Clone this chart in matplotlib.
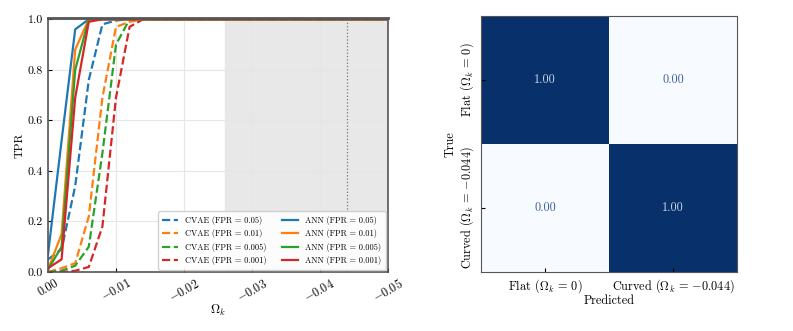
import numpy as np
import matplotlib
matplotlib.use("Agg")
import matplotlib.pyplot as plt

plt.rcParams['font.family'] = 'serif'
plt.rcParams['font.serif'] = ['cmr10', 'DejaVu Serif']
plt.rcParams['mathtext.fontset'] = 'cm'
plt.rcParams['axes.formatter.use_mathtext'] = True
plt.rcParams['axes.unicode_minus'] = True

# Данные: сетка Omega_k и TPR для каждой кривой
omega_k = [0.0, -0.002, -0.004, -0.006, -0.008, -0.010, -0.012, -0.014, -0.016,
           -0.020, -0.030, -0.040, -0.050]

cvae_005 = [0.05, 0.09, 0.34, 0.76, 0.98, 0.995, 1.0, 1.0, 1.0, 1.0, 1.0, 1.0, 1.0]
cvae_001 = [0.00, 0.015, 0.035, 0.22, 0.69, 0.97, 0.99, 1.0, 1.0, 1.0, 1.0, 1.0, 1.0]
cvae_0005 = [0.00, 0.005, 0.025, 0.10, 0.47, 0.90, 1.0, 1.0, 1.0, 1.0, 1.0, 1.0, 1.0]
cvae_0001 = [0.00, 0.00, 0.005, 0.02, 0.18, 0.69, 0.97, 1.0, 1.0, 1.0, 1.0, 1.0, 1.0]

ann_005 = [0.07, 0.52, 0.96, 1.0, 1.0, 1.0, 1.0, 1.0, 1.0, 1.0, 1.0, 1.0, 1.0]
ann_001 = [0.01, 0.15, 0.88, 1.0, 1.0, 1.0, 1.0, 1.0, 1.0, 1.0, 1.0, 1.0, 1.0]
ann_0005 = [0.01, 0.10, 0.80, 1.0, 1.0, 1.0, 1.0, 1.0, 1.0, 1.0, 1.0, 1.0, 1.0]
ann_0001 = [0.015, 0.05, 0.69, 0.99, 1.0, 1.0, 1.0, 1.0, 1.0, 1.0, 1.0, 1.0, 1.0]

fpr_labels = ['0.05', '0.01', '0.005', '0.001']
omega_true = -0.044
shade_start = -0.026

conf_matrix = np.array([[1.00, 0.00], [0.00, 1.00]])
class_labels = [r'Flat ($\Omega_k\,=\,0$)', r'Curved ($\Omega_k\,=\,{-0.044}$)']

colors = ['#1f77b4', '#ff7f0e', '#2ca02c', '#d62728']

fig = plt.figure(figsize=(7.93, 3.31), dpi=100)
ax1 = fig.add_axes([48 / 793, 59 / 331, 340 / 793, 254 / 331])
ax2 = fig.add_axes([481 / 793, 59 / 331, 256 / 793, 256 / 331])

# Левая панель: кривые TPR
ax1.axvspan(shade_start, -0.05, color='#e8e8e8', zorder=0)
ax1.grid(True, color='#e6e6e6', linewidth=0.8, zorder=0.5)
cvae = [cvae_005, cvae_001, cvae_0005, cvae_0001]
ann = [ann_005, ann_001, ann_0005, ann_0001]
handles = []
for i in range(4):
    h, = ax1.plot(omega_k, cvae[i], '--', color=colors[i], lw=1.6,
                  label='CVAE (FPR = %s)' % fpr_labels[i])
    handles.append(h)
for i in range(4):
    h, = ax1.plot(omega_k, ann[i], '-', color=colors[i], lw=1.6,
                  label='ANN (FPR = %s)' % fpr_labels[i])
    handles.append(h)
ax1.axvline(omega_true, color='#777777', linestyle=':', lw=0.9)

ax1.set_xlim(0, -0.05)
ax1.set_ylim(0, 1.005)
ax1.set_xticks([0, -0.01, -0.02, -0.03, -0.04, -0.05])
ax1.set_xticklabels(['0.00', r'$-0.01$', r'$-0.02$', r'$-0.03$', r'$-0.04$', r'$-0.05$'],
                    rotation=30, fontsize=8.8)
ax1.set_yticks([0, 0.2, 0.4, 0.6, 0.8, 1.0])
ax1.set_yticklabels(['0.0', '0.2', '0.4', '0.6', '0.8', '1.0'], fontsize=8.6)
ax1.tick_params(direction='in', length=3)
ax1.set_xlabel(r'$\Omega_k$', fontsize=9, labelpad=-2)
ax1.set_ylabel('TPR', fontsize=8.6, labelpad=2.5)
for s in ax1.spines.values():
    s.set_color('#555555')
    s.set_linewidth(1.2)
ax1.spines['top'].set_linewidth(2.0)
ax1.legend(handles=handles, ncol=2, loc='lower right', fontsize=6,
           handlelength=1.9, handletextpad=0.85, columnspacing=1.9, framealpha=0.9,
           edgecolor='#cccccc', borderpad=0.5, labelspacing=0.55, borderaxespad=0.3)

# Правая панель: матрица ошибок
ax2.imshow(conf_matrix, cmap='Blues', vmin=0, vmax=1, aspect='auto')
for i in range(2):
    for j in range(2):
        val = conf_matrix[i, j]
        tc = '#c9d7ec' if val > 0.5 else '#3b5f95'
        ax2.text(j, i, '%.2f' % val, ha='center', va='center', color=tc, fontsize=8.8)
ax2.set_xticks([0, 1])
ax2.set_xticklabels(class_labels, fontsize=8.8)
ax2.set_yticks([0, 1])
ax2.set_yticklabels(class_labels, fontsize=8.8, rotation=90, va='center')
ax2.tick_params(direction='in', length=3)
ax2.set_xlabel('Predicted', fontsize=8.8, labelpad=0)
ax2.set_ylabel('True', fontsize=8.8, labelpad=1)
for s in ax2.spines.values():
    s.set_color('#555555')

fig.savefig('out.png', dpi=100)
